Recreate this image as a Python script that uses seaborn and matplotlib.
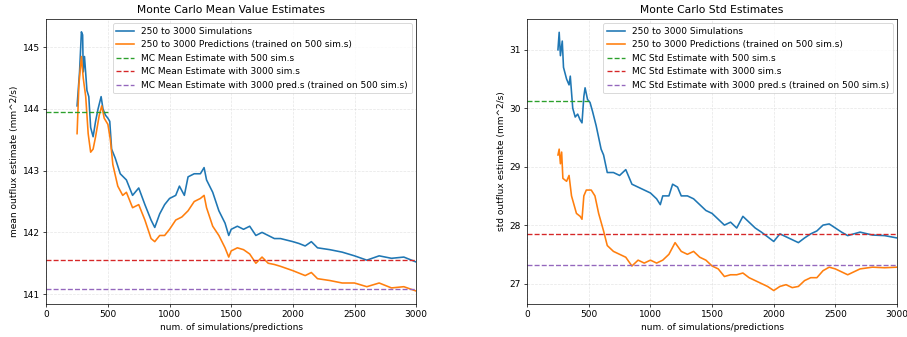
import matplotlib
matplotlib.use("Agg")
import matplotlib.pyplot as plt
import seaborn as sns
import numpy as np

# number of simulations / predictions at which the running estimates were read
mean_sim_x = [250, 270, 285, 295, 300, 310, 330, 345, 360, 380, 400, 420, 445, 460, 480, 500,
              515, 530, 560, 600, 650, 700, 750, 800, 850, 880, 920, 960, 1000, 1050, 1080,
              1120, 1150, 1200, 1250, 1280, 1300, 1350, 1400, 1450, 1480, 1500, 1550, 1600,
              1650, 1700, 1750, 1800, 1850, 1900, 2000, 2050, 2100, 2150, 2200, 2300, 2400,
              2500, 2600, 2700, 2800, 2900, 3000]
mean_sim_y = [144.05, 144.6, 145.25, 145.2, 144.6, 144.85, 144.3, 144.2, 143.7, 143.55, 143.8,
              144.0, 144.2, 144.0, 143.9, 143.85, 143.8, 143.35, 143.2, 142.95, 142.85, 142.6,
              142.72, 142.45, 142.2, 142.08, 142.3, 142.45, 142.55, 142.6, 142.75, 142.6, 142.9,
              142.95, 142.95, 143.05, 142.85, 142.65, 142.35, 142.15, 141.95, 142.05, 142.1,
              142.05, 142.1, 141.95, 142.0, 141.95, 141.9, 141.9, 141.85, 141.82, 141.78,
              141.85, 141.75, 141.72, 141.68, 141.62, 141.55, 141.62, 141.58, 141.6, 141.52]

mean_pred_x = [250, 265, 285, 300, 320, 340, 360, 380, 400, 430, 450, 470, 500, 520, 540, 580,
               620, 650, 700, 750, 800, 850, 880, 920, 960, 1000, 1050, 1100, 1150, 1200, 1250,
               1280, 1300, 1350, 1400, 1450, 1480, 1500, 1550, 1600, 1650, 1700, 1750, 1800,
               1850, 1900, 2000, 2100, 2150, 2200, 2300, 2400, 2500, 2600, 2700, 2800, 2900, 3000]
mean_pred_y = [143.6, 144.4, 144.85, 144.5, 144.2, 143.6, 143.3, 143.35, 143.55, 143.9, 144.05,
               143.85, 143.75, 143.5, 143.1, 142.75, 142.6, 142.65, 142.4, 142.45, 142.2, 141.9,
               141.85, 141.95, 141.95, 142.05, 142.2, 142.25, 142.35, 142.5, 142.55, 142.6, 142.4,
               142.1, 141.95, 141.75, 141.6, 141.7, 141.75, 141.72, 141.65, 141.5, 141.6, 141.5,
               141.48, 141.45, 141.38, 141.3, 141.35, 141.25, 141.22, 141.18, 141.18, 141.12,
               141.18, 141.1, 141.12, 141.05]

std_sim_x = [250, 260, 270, 285, 295, 320, 340, 350, 370, 390, 410, 430, 445, 460, 470, 490,
             510, 530, 560, 600, 620, 650, 700, 750, 800, 850, 900, 950, 1000, 1050, 1080, 1100,
             1150, 1180, 1220, 1250, 1300, 1350, 1400, 1450, 1500, 1550, 1600, 1650, 1700, 1750,
             1800, 1850, 1900, 1950, 2000, 2050, 2100, 2150, 2200, 2250, 2300, 2350, 2400, 2450,
             2500, 2550, 2600, 2700, 2800, 2900, 3000]
std_sim_y = [31.0, 31.3, 30.9, 31.15, 30.7, 30.5, 30.4, 30.55, 30.0, 29.85, 29.9, 29.8, 29.75,
             30.2, 30.35, 30.15, 30.1, 29.95, 29.7, 29.3, 29.2, 28.9, 28.9, 28.85, 28.95, 28.7,
             28.65, 28.6, 28.55, 28.45, 28.35, 28.5, 28.5, 28.7, 28.65, 28.5, 28.5, 28.45, 28.35,
             28.25, 28.2, 28.1, 28.0, 28.05, 27.95, 28.15, 28.05, 27.95, 27.88, 27.8, 27.72,
             27.85, 27.8, 27.75, 27.7, 27.78, 27.85, 27.9, 28.0, 28.02, 27.95, 27.88, 27.82,
             27.88, 27.83, 27.82, 27.78]

std_pred_x = [250, 260, 270, 280, 290, 320, 340, 360, 380, 400, 430, 445, 460, 480, 520, 550,
              580, 620, 650, 700, 750, 800, 850, 900, 950, 1000, 1050, 1100, 1150, 1200, 1250,
              1300, 1350, 1400, 1450, 1500, 1550, 1600, 1650, 1700, 1750, 1800, 1850, 1900, 1950,
              2000, 2050, 2100, 2150, 2200, 2250, 2300, 2350, 2400, 2450, 2500, 2550, 2600, 2650,
              2700, 2800, 2900, 3000]
std_pred_y = [29.2, 29.3, 29.05, 29.25, 28.8, 28.75, 28.85, 28.5, 28.35, 28.2, 28.15, 28.1, 28.5,
              28.6, 28.6, 28.5, 28.2, 27.9, 27.65, 27.55, 27.5, 27.45, 27.3, 27.4, 27.35, 27.4,
              27.35, 27.4, 27.5, 27.7, 27.55, 27.5, 27.55, 27.45, 27.4, 27.3, 27.25, 27.12, 27.15,
              27.15, 27.18, 27.1, 27.05, 27.0, 26.95, 26.88, 26.95, 26.98, 26.93, 26.95, 27.05,
              27.1, 27.1, 27.22, 27.28, 27.25, 27.2, 27.15, 27.2, 27.25, 27.28, 27.27, 27.28]

# reference estimates (horizontal lines)
mean_est_500 = 143.95
mean_est_3000 = 141.55
mean_est_3000_pred = 141.08
std_est_500 = 30.12
std_est_3000 = 27.85
std_est_3000_pred = 27.32

dpi = 64.5
fig, axes = plt.subplots(1, 2, figsize=(907 / dpi, 337 / dpi), dpi=dpi)
fig.subplots_adjust(left=0.051, right=0.989, bottom=0.098, top=0.944, wspace=0.3)

panels = [
    (axes[0], mean_sim_x, mean_sim_y, mean_pred_x, mean_pred_y,
     mean_est_500, mean_est_3000, mean_est_3000_pred, "Mean",
     "Monte Carlo Mean Value Estimates", "mean outflux estimate (mm^2/s)", (140.84, 145.46)),
    (axes[1], std_sim_x, std_sim_y, std_pred_x, std_pred_y,
     std_est_500, std_est_3000, std_est_3000_pred, "Std",
     "Monte Carlo Std Estimates", "std outflux estimate (mm^2/s)", (26.65, 31.53)),
]

for ax, sx, sy, px, py, e500, e3000, e3000p, name, title, ylabel, ylim in panels:
    sns.lineplot(x=sx, y=sy, ax=ax, color="tab:blue", linewidth=1.8,
                 label="250 to 3000 Simulations")
    sns.lineplot(x=px, y=py, ax=ax, color="tab:orange", linewidth=1.8,
                 label="250 to 3000 Predictions (trained on 500 sim.s)")
    ax.hlines(e500, 0, 500, colors="tab:green", linestyles="--",
              label=f"MC {name} Estimate with 500 sim.s")
    ax.axhline(e3000, color="tab:red", linestyle="--",
               label=f"MC {name} Estimate with 3000 sim.s")
    ax.axhline(e3000p, color="tab:purple", linestyle="--",
               label=f"MC {name} Estimate with 3000 pred.s (trained on 500 sim.s)")
    ax.set_xlim(0, 3000)
    ax.set_ylim(*ylim)
    ax.set_title(title)
    ax.set_xlabel("num. of simulations/predictions")
    ax.set_ylabel(ylabel)
    ax.grid(True, linestyle="--", alpha=0.3)
    ax.legend(loc="upper right")

plt.savefig("out.png")
plt.close()
